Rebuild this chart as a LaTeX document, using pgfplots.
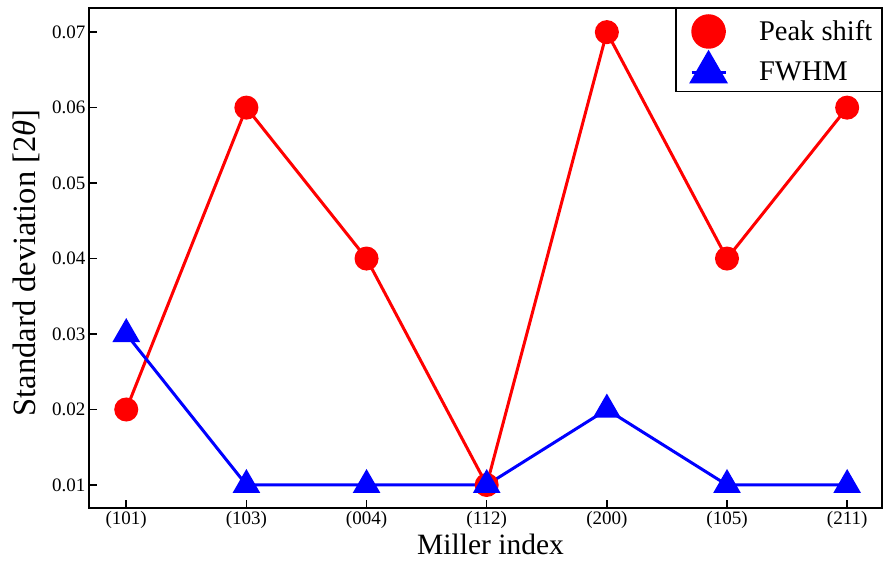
\documentclass[border=0pt]{standalone}
\usepackage{pgfplots}
\pgfplotsset{compat=1.18}
\usepackage{fontspec}
\setmainfont{Liberation Serif}
\begin{document}
\begin{tikzpicture}
\begin{axis}[
	name=ax,
	scale only axis,
	width=793pt, height=500pt,
	xmin=-0.31, xmax=6.29,
	ymin=0.00695, ymax=0.0732,
	xtick={0,1,2,3,4,5,6},
	xticklabels={(101),(103),(004),(112),(200),(105),(211)},
	ytick={0.01,0.02,0.03,0.04,0.05,0.06,0.07},
	yticklabel style={/pgf/number format/.cd, fixed, precision=2, fixed zerofill},
	/pgf/number format/assume math mode=true,
	scaled y ticks=false,
	tick align=inside,
	xtick pos=left, ytick pos=left,
	major tick length=8pt,
	tick style={black, line width=1.5pt},
	axis line style={line width=2pt},
	tick label style={font=\fontsize{19}{22}\selectfont},
	xlabel={Miller index},
	xlabel style={font=\fontsize{29.5}{32}\selectfont, xshift=5pt, yshift=2pt},
	ylabel={Standard deviation [2{\itshape θ}]},
	ylabel style={font=\fontsize{32.5}{35}\selectfont, yshift=6pt, xshift=-5pt},
	legend style={at={(rel axis cs:1,1)}, anchor=north east, draw=black, line width=1.5pt,
		font=\fontsize{28.5}{31}\selectfont, row sep=5.5pt, inner sep=7pt},
	legend cell align=left,
	legend image code/.code={\path (-7pt,0pt); \draw[mark repeat=2,mark phase=2] plot coordinates {(0pt,0pt)(17pt,0pt)(34pt,0pt)};},
	legend image post style={every mark/.append style={scale=1.5}},
	clip=false,
]
\addplot[color=red, line width=3pt, mark=*, mark size=10.5pt, mark options={draw=none, fill=red}] coordinates {
	(0,0.02)
	(1,0.06)
	(2,0.04)
	(3,0.01)
	(4,0.07)
	(5,0.04)
	(6,0.06)
};
\addlegendentry{\hspace*{30pt}Peak shift}
\addplot[color=blue, line width=3pt, mark=triangle*, mark size=13pt, mark options={draw=none, fill=blue}] coordinates {
	(0,0.03)
	(1,0.01)
	(2,0.01)
	(3,0.01)
	(4,0.02)
	(5,0.01)
	(6,0.01)
};
\addlegendentry{\hspace*{30pt}FWHM}
\end{axis}
\pgfresetboundingbox
\useasboundingbox ([shift={(-89pt,-58pt)}]ax.south west) rectangle ([shift={(1pt,8pt)}]ax.north east);
\end{tikzpicture}
\end{document}
